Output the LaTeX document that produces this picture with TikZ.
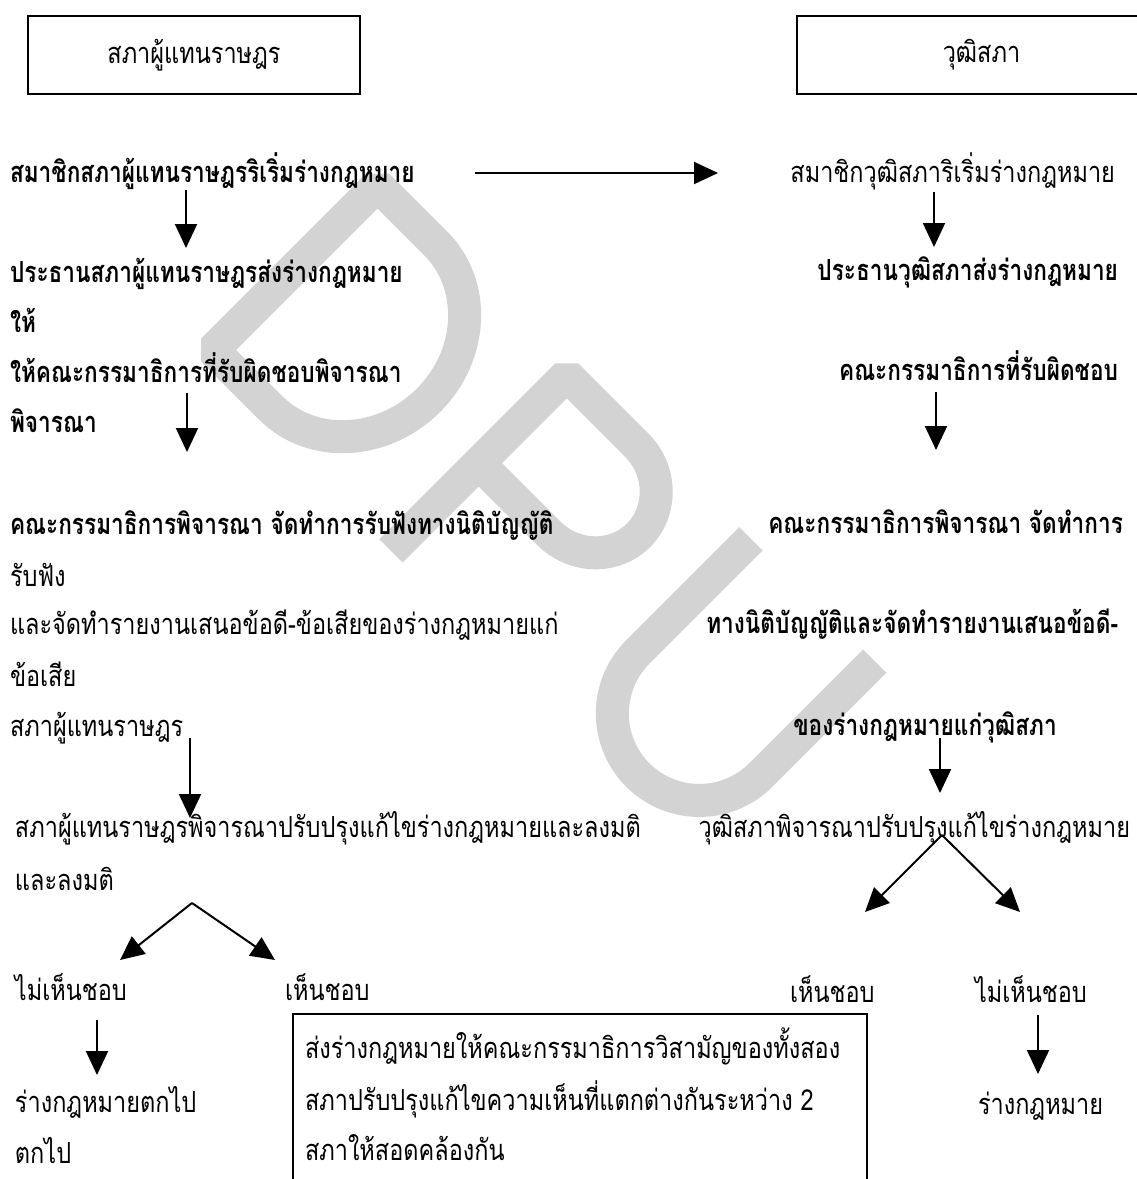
\documentclass[tikz,border=0pt]{standalone}
\usepackage{fontspec}
\newfontfamily\thai[Script=Thai,FakeStretch=0.81]{Loma}
\newfontfamily\thaib[Script=Thai,FakeStretch=0.78,UprightFont=*-Bold]{Loma}
\usetikzlibrary{arrows.meta}
\definecolor{wm}{RGB}{211,211,211}
\begin{document}
\begin{tikzpicture}[x=1pt,y=-1pt,
  every node/.style={inner sep=0pt, outer sep=0pt},
  rtxt/.style={font=\thai\fontsize{29}{32}\selectfont},
  btxt/.style={font=\thaib\fontsize{29}{32}\selectfont},
  arr/.style={line width=2pt,-{Triangle[width=22pt,length=24pt]}},
  frame/.style={draw, line width=2pt},
  wmark/.style={draw=wm, line width=33pt, line join=bevel}]
\useasboundingbox (0,0) rectangle (1137,1179);
% watermark
\begin{scope}[x={(0.7071pt,-0.7071pt)}, y={(0.7071pt,0.7071pt)}]
\draw[wmark] (398,-97) -- (398,136) -- (480,136) .. controls (538.5,136) and (586,84) .. (586,20) .. controls (586,-44) and (538.5,-97) .. (480,-97) -- cycle;
\draw[wmark] (666,-113) -- (666,135.5) -- (765,135.5) .. controls (801,135.5) and (830,107) .. (830,73) .. controls (830,39) and (801,11) .. (765,11) -- (666,11);
\draw[wmark] (912,150) -- (912,-10) .. controls (912,-58) and (951,-97) .. (999,-97) .. controls (1047,-97) and (1086,-58) .. (1086,-10) -- (1086,151);
\end{scope}
% headings
\node[frame, minimum width=332pt, minimum height=78pt, rtxt] (hL) at (194,55) {สภาผู้แทนราษฎร};
\node[frame, minimum width=343pt, minimum height=78pt, rtxt] (hR) at (968.5,55) {\hspace*{26pt}วุฒิสภา};
% left column
\node[btxt, anchor=base west] (L1) at (10,182) {สมาชิกสภาผู้แทนราษฎรริเริ่มร่างกฎหมาย};
\node[btxt, anchor=base west] (L2) at (10,282) {ประธานสภาผู้แทนราษฎรส่งร่างกฎหมาย};
\node[btxt, anchor=base west] (L3) at (10,332) {ให้};
\node[btxt, anchor=base west] (L4) at (10,382) {ให้คณะกรรมาธิการที่รับผิดชอบพิจารณา};
\node[btxt, anchor=base west] (L5) at (10,432) {พิจารณา};
\node[btxt, anchor=base west] (L6) at (10,534) {คณะกรรมาธิการพิจารณา จัดทำการรับฟังทางนิติบัญญัติ};
\node[rtxt, anchor=base west] (L7) at (10,586) {รับฟัง};
\node[rtxt, anchor=base west] (L8) at (10,634) {และจัดทำรายงานเสนอข้อดี-ข้อเสียของร่างกฎหมายแก่};
\node[rtxt, anchor=base west] (L9) at (10,686) {ข้อเสีย};
\node[rtxt, anchor=base west] (L10) at (10,736) {สภาผู้แทนราษฎร};
\node[rtxt, anchor=base west] (L11) at (15,837) {สภาผู้แทนราษฎรพิจารณาปรับปรุงแก้ไขร่างกฎหมายและลงมติ};
\node[rtxt, anchor=base west] (L12) at (15,890) {และลงมติ};
\node[rtxt, anchor=base west] (L13) at (15,1000) {ไม่เห็นชอบ};
\node[rtxt, anchor=base west] (L14) at (285,1000) {เห็นชอบ};
\node[rtxt, anchor=base west] (L15) at (15,1112) {ร่างกฎหมายตกไป};
\node[rtxt, anchor=base west] (L16) at (15,1163) {ตกไป};
% right column
\node[rtxt, anchor=base east] (R1) at (1115,182) {สมาชิกวุฒิสภาริเริ่มร่างกฎหมาย};
\node[btxt, anchor=base east] (R2) at (1118,280) {ประธานวุฒิสภาส่งร่างกฎหมาย};
\node[btxt, anchor=base east] (R3) at (1118,380) {คณะกรรมาธิการที่รับผิดชอบ};
\node[btxt, anchor=base east] (R4) at (1123,533) {คณะกรรมาธิการพิจารณา จัดทำการ};
\node[btxt, anchor=base east] (R5) at (1118,633) {ทางนิติบัญญัติและจัดทำรายงานเสนอข้อดี-};
\node[btxt, anchor=base] (R6) at (925,735) {ของร่างกฎหมายแก่วุฒิสภา};
\node[rtxt, anchor=base east] (R7) at (1130,837) {วุฒิสภาพิจารณาปรับปรุงแก้ไขร่างกฎหมาย};
\node[rtxt, anchor=base west] (R8) at (790,1002) {เห็นชอบ};
\node[rtxt, anchor=base west] (R9) at (975,1002) {ไม่เห็นชอบ};
\node[rtxt, anchor=base west] (R10) at (978,1114) {ร่างกฎหมาย};
% bottom box
\draw[frame] (293,1185) -- (293,1014) -- (867,1014) -- (867,1185);
\node[rtxt, anchor=base west] (B1) at (305,1058) {ส่งร่างกฎหมายให้คณะกรรมาธิการวิสามัญของทั้งสอง};
\node[rtxt, anchor=base west] (B2) at (305,1110) {สภาปรับปรุงแก้ไขความเห็นที่แตกต่างกันระหว่าง 2};
\node[rtxt, anchor=base west] (B3) at (305,1160) {สภาให้สอดคล้องกัน};
% connector end points
\coordinate (h0) at (475,173); \coordinate (h1) at (718,173);
\coordinate (a1) at (186,190); \coordinate (a1e) at (186,248);
\coordinate (a2) at (187,393); \coordinate (a2e) at (187,452);
\coordinate (a3) at (190,738); \coordinate (a3e) at (190,818);
\coordinate (a4) at (97,1020); \coordinate (a4e) at (97,1075);
\coordinate (b1) at (934,192); \coordinate (b1e) at (934,247);
\coordinate (b2) at (936,392); \coordinate (b2e) at (936,450);
\coordinate (b3) at (940,738); \coordinate (b3e) at (940,793);
\coordinate (b4) at (1038,1015); \coordinate (b4e) at (1038,1074);
\coordinate (sL) at (192,903); \coordinate (sLa) at (120,960); \coordinate (sLb) at (275,960);
\coordinate (sR) at (942,835); \coordinate (sRa) at (865,912); \coordinate (sRb) at (1020,912);
% connectors
\draw[arr] (h0) -- (h1);
\draw[arr] (a1) -- (a1e);
\draw[arr] (a2) -- (a2e);
\draw[arr] (a3) -- (a3e);
\draw[arr] (a4) -- (a4e);
\draw[arr] (b1) -- (b1e);
\draw[arr] (b2) -- (b2e);
\draw[arr] (b3) -- (b3e);
\draw[arr] (b4) -- (b4e);
\draw[arr] (sL) -- (sLa); \draw[arr] (sL) -- (sLb);
\draw[arr] (sR) -- (sRa); \draw[arr] (sR) -- (sRb);
\end{tikzpicture}
\end{document}
